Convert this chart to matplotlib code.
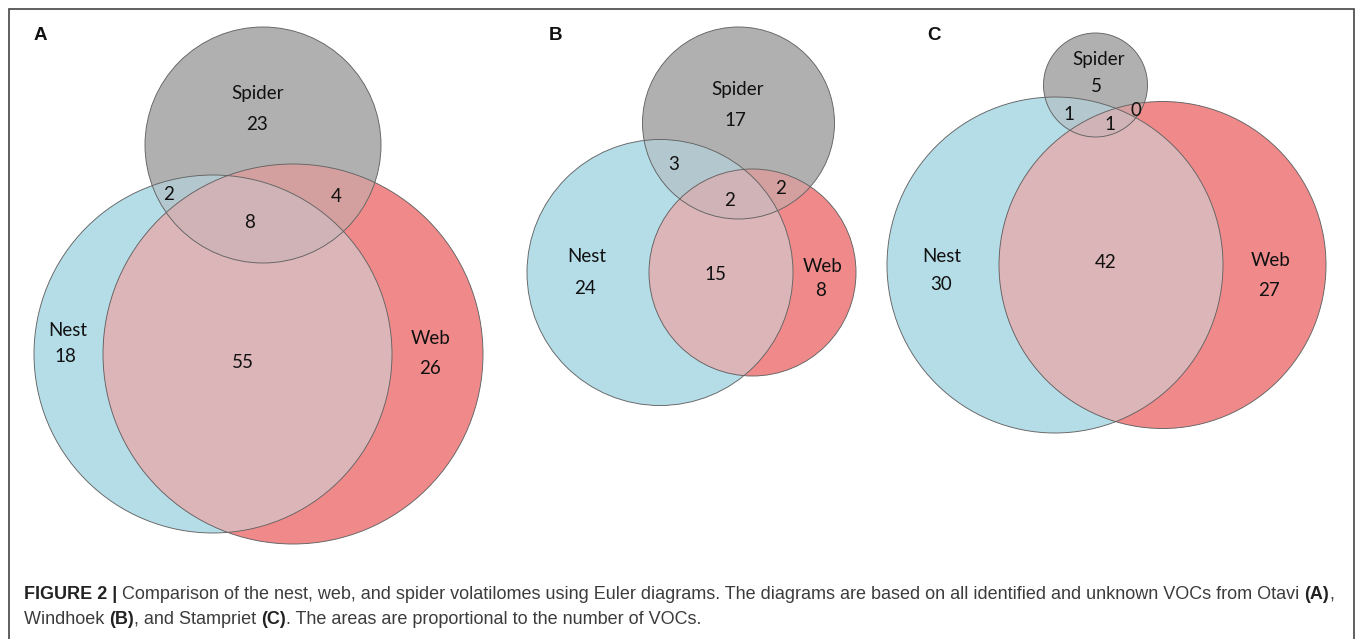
import numpy as np
import matplotlib
matplotlib.use("Agg")
import matplotlib.pyplot as plt
from matplotlib.patches import Circle, Polygon

# ---------------- data ----------------
panels = ["A", "B", "C"]
set_names = ["Spider", "Nest", "Web"]
spider_only = [23, 17, 5]
nest_only = [18, 24, 30]
web_only = [26, 8, 27]
spider_nest = [2, 3, 1]
spider_web = [4, 2, 0]
nest_web = [55, 15, 42]
all_three = [8, 2, 1]

caption_line1 = [("FIGURE 2 | ", True),
                 ("Comparison of the nest, web, and spider volatilomes using Euler diagrams. "
                  "The diagrams are based on all identified and unknown VOCs from Otavi ", False),
                 ("(A)", True), (",", False)]
caption_line2 = [("Windhoek ", False), ("(B)", True), (", and Stampriet ", False),
                 ("(C)", True), (". The areas are proportional to the number of VOCs.", False)]

# ---------------- layout (pixels, y downwards) ----------------
geom = {
    "A": {"Spider": (263, 145, 118), "Nest": (213, 354, 179), "Web": (293, 354, 190)},
    "B": {"Spider": (738.5, 123, 96), "Nest": (660, 272.5, 133), "Web": (752.5, 272.5, 103.5)},
    "C": {"Spider": (1095.5, 85, 52), "Nest": (1055, 265, 168), "Web": (1162.5, 265, 163.5)},
}
letter_pos = {"A": (40, 35), "B": (555, 35), "C": (934, 35)}
label_pos = {
    "A": {"Spider": (258, 93), "spider_only": (257, 125), "spider_nest": (169, 195),
          "spider_web": (336, 197), "all_three": (250, 223), "Nest": (68, 330),
          "nest_only": (65, 357), "nest_web": (243, 363), "Web": (431, 339), "web_only": (430, 369)},
    "B": {"Spider": (738, 89), "spider_only": (735, 121), "spider_nest": (674, 165),
          "spider_web": (781, 189), "all_three": (730, 200), "Nest": (587, 256),
          "nest_only": (585, 289), "nest_web": (715, 274), "Web": (823, 266), "web_only": (821, 291)},
    "C": {"Spider": (1099, 60), "spider_only": (1096, 87), "spider_nest": (1069, 115),
          "spider_web": (1136, 110), "all_three": (1110, 125), "Nest": (942, 257),
          "nest_only": (941, 285), "nest_web": (1106, 262), "Web": (1271, 260), "web_only": (1269, 290)},
}

col = {
    "nest": "#b4dde8", "web": "#f08a8a", "nest_web": "#dcb5b9",
    "spider": "#b0b0b0", "spider_nest": "#b3c7ce", "spider_web": "#d4a09f",
    "all": "#cfb3b6", "edge": "#636363",
}

W, H = 1358, 639
fig = plt.figure(figsize=(W / 100, H / 100), dpi=100)
ax = fig.add_axes([0, 0, 1, 1])
ax.set_xlim(0, W)
ax.set_ylim(H, 0)
ax.set_aspect("auto")
ax.axis("off")

def circ(c, **kw):
    return Circle((c[0], c[1]), c[2], transform=ax.transData, **kw)

def lens(c1, c2, n=720):
    t = np.linspace(0, 2 * np.pi, n, endpoint=False)
    pts = []
    for a, b in ((c1, c2), (c2, c1)):
        x = a[0] + a[2] * np.cos(t)
        y = a[1] + a[2] * np.sin(t)
        inside = (x - b[0]) ** 2 + (y - b[1]) ** 2 <= b[2] ** 2
        pts.append(np.column_stack([x[inside], y[inside]]))
    pts = np.vstack(pts)
    cx, cy = pts.mean(axis=0)
    order = np.argsort(np.arctan2(pts[:, 1] - cy, pts[:, 0] - cx))
    return pts[order]

font_main = ["Lato", "DejaVu Sans"]
fs = 13.5

for i, p in enumerate(panels):
    g = geom[p]
    S, N, Wb = g["Spider"], g["Nest"], g["Web"]
    ax.add_patch(circ(N, facecolor=col["nest"], edgecolor="none", zorder=1))
    ax.add_patch(circ(Wb, facecolor=col["web"], edgecolor="none", zorder=1))
    pk = circ(Wb, facecolor=col["nest_web"], edgecolor="none", zorder=2)
    ax.add_patch(pk)
    pk.set_clip_path(circ(N))
    ax.add_patch(circ(S, facecolor=col["spider"], edgecolor="none", zorder=3))
    sn = circ(S, facecolor=col["spider_nest"], edgecolor="none", zorder=4)
    ax.add_patch(sn)
    sn.set_clip_path(circ(N))
    sw = circ(S, facecolor=col["spider_web"], edgecolor="none", zorder=4)
    ax.add_patch(sw)
    sw.set_clip_path(circ(Wb))
    tri = Polygon(lens(N, Wb), closed=True, facecolor=col["all"], edgecolor="none", zorder=5)
    ax.add_patch(tri)
    tri.set_clip_path(circ(S))
    for c in (N, Wb, S):
        ax.add_patch(circ(c, facecolor="none", edgecolor=col["edge"], lw=0.65, zorder=6))

    lp = label_pos[p]
    vals = {"spider_only": spider_only[i], "nest_only": nest_only[i], "web_only": web_only[i],
            "spider_nest": spider_nest[i], "spider_web": spider_web[i],
            "nest_web": nest_web[i], "all_three": all_three[i]}
    for name in set_names:
        ax.text(*lp[name], name, ha="center", va="center", fontsize=fs,
                family=font_main, color="#111111", zorder=10)
    for k, v in vals.items():
        ax.text(*lp[k], str(v), ha="center", va="center", fontsize=fs,
                family=font_main, color="#111111", zorder=10)
    ax.text(*letter_pos[p], p, ha="center", va="center", fontsize=13.5, weight="bold",
            family=["Liberation Sans", "DejaVu Sans"], color="#111111", zorder=10)

# border
ax.plot([8.5, 8.5, 1354, 1354], [H + 2, 8.5, 8.5, H + 2], color="#444444", lw=1.2,
        solid_joinstyle="miter", zorder=20, clip_on=False)

# caption
renderer = fig.canvas.get_renderer()
cap_font = ["Liberation Sans", "DejaVu Sans"]

def draw_line(pieces, x0, y, size, draw=True):
    x = x0
    for txt, bold in pieces:
        t = ax.text(x, y, txt, ha="left", va="baseline", fontsize=size, family=cap_font,
                    weight="bold" if bold else "normal",
                    color="#222222" if bold else "#3c3c3c", zorder=10)
        bb = t.get_window_extent(renderer=renderer)
        x += bb.width  # 1 px == 1 data unit
        if not draw:
            t.remove()
    return x - x0

base = 12.0
wid = draw_line(caption_line1, 24, 599, base, draw=False)
cap_fs = base * (1339 - 24) / wid
draw_line(caption_line1, 24, 599, cap_fs)
draw_line(caption_line2, 24, 624, cap_fs)

fig.savefig("out.png", dpi=100)
